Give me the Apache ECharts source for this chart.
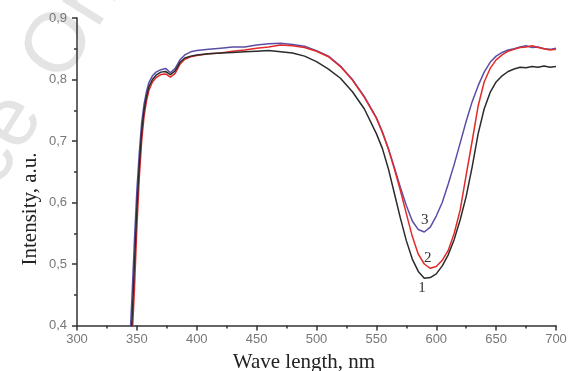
<!DOCTYPE html>
<html>
<head>
<meta charset="utf-8">
<script src="https://cdn.jsdelivr.net/npm/echarts@6/dist/echarts.min.js"></script>
<style>
  html, body { margin: 0; padding: 0; background: #fff; }
  #chart { width: 571px; height: 371px; }
</style>
</head>
<body>
<div id="chart"></div>
<script>
// Transmission spectra, three samples.
const wavelength = [
  344, 346, 348, 350, 352, 354, 356, 358, 360, 363, 366, 370, 374, 378, 382, 386,
  390, 395, 400, 410, 420, 430, 440, 450, 460, 470, 480, 490, 500, 510, 520, 530,
  540, 550, 555, 560, 565, 570, 575, 580, 585, 590, 595, 600, 605, 610, 615, 620,
  625, 630, 635, 640, 645, 650, 655, 660, 665, 670, 675, 680, 685, 690, 695, 700
];
const curve1 = [
  0.35, 0.41, 0.50, 0.59, 0.66, 0.715, 0.75, 0.772, 0.788, 0.800, 0.807, 0.812, 0.813, 0.808, 0.814, 0.828,
  0.835, 0.838, 0.840, 0.842, 0.843, 0.844, 0.845, 0.846, 0.847, 0.845, 0.843, 0.838, 0.829, 0.817, 0.802, 0.780,
  0.752, 0.712, 0.688, 0.655, 0.615, 0.575, 0.538, 0.508, 0.488, 0.477, 0.478, 0.484, 0.497, 0.515, 0.540, 0.572,
  0.610, 0.658, 0.712, 0.752, 0.779, 0.796, 0.806, 0.813, 0.817, 0.820, 0.819, 0.821, 0.820, 0.822, 0.820, 0.821
];
const curve2 = [
  0.34, 0.38, 0.46, 0.56, 0.64, 0.70, 0.74, 0.765, 0.782, 0.796, 0.803, 0.808, 0.809, 0.804, 0.810, 0.825,
  0.833, 0.837, 0.839, 0.842, 0.843, 0.846, 0.848, 0.851, 0.853, 0.856, 0.855, 0.852, 0.846, 0.837, 0.821, 0.799,
  0.771, 0.737, 0.714, 0.687, 0.655, 0.620, 0.582, 0.545, 0.516, 0.500, 0.493, 0.496, 0.506, 0.522, 0.550, 0.588,
  0.645, 0.700, 0.757, 0.796, 0.818, 0.832, 0.840, 0.846, 0.849, 0.852, 0.853, 0.855, 0.852, 0.850, 0.848, 0.849
];
const curve3 = [
  0.37, 0.45, 0.54, 0.62, 0.68, 0.73, 0.76, 0.78, 0.795, 0.806, 0.812, 0.816, 0.818, 0.811, 0.818, 0.832,
  0.840, 0.845, 0.847, 0.849, 0.851, 0.853, 0.853, 0.856, 0.858, 0.859, 0.857, 0.854, 0.847, 0.838, 0.822, 0.800,
  0.772, 0.738, 0.715, 0.688, 0.657, 0.625, 0.595, 0.570, 0.556, 0.552, 0.560, 0.578, 0.600, 0.630, 0.662, 0.697,
  0.732, 0.764, 0.790, 0.812, 0.828, 0.838, 0.844, 0.848, 0.850, 0.853, 0.855, 0.852, 0.853, 0.850, 0.849, 0.851
];
const curveNames = ['1', '2', '3'];
const curveColors = ['#2b2b2b', '#e22a2a', '#5a4fa6'];
// where the curve numbers sit, in data units
const labelAt = [[588, 0.461], [593, 0.510], [590.5, 0.571]];

const SERIF = '"Liberation Serif", "DejaVu Serif", serif';
const SANS = '"Liberation Sans", Arial, sans-serif';
const pair = (ys) => wavelength.map((x, i) => [x, ys[i]]);
const comma = (v) => v.toFixed(1).replace('.', ',');
const TILT = 58 * Math.PI / 180;

const chart = echarts.init(document.getElementById('chart'));
chart.setOption({
  animation: false,
  backgroundColor: '#fff',
  grid: { left: 77, right: 15, top: 18, bottom: 45.5 },
  xAxis: {
    type: 'value',
    min: 300,
    max: 700,
    interval: 50,
    axisLine: { show: true, onZero: false, lineStyle: { color: '#333', width: 1.5 } },
    axisTick: { show: true, length: 5, lineStyle: { color: '#333', width: 1.5 } },
    minorTick: { show: true, splitNumber: 2, length: 3, lineStyle: { color: '#333', width: 1.5 } },
    axisLabel: { color: '#777', fontSize: 13, fontFamily: SANS, margin: 7 },
    splitLine: { show: false },
  },
  yAxis: {
    type: 'value',
    min: 0.4,
    max: 0.9,
    interval: 0.1,
    axisLine: { show: true, lineStyle: { color: '#333', width: 1.5 } },
    axisTick: { show: true, length: 5, lineStyle: { color: '#333', width: 1.5 } },
    minorTick: { show: true, splitNumber: 2, length: 3, lineStyle: { color: '#333', width: 1.5 } },
    axisLabel: { color: '#777', fontSize: 13, fontFamily: SANS, margin: 10, formatter: comma },
    splitLine: { show: false },
  },
  graphic: [
    // faint watermark in the top-left corner
    {
      type: 'text', x: 24.5, y: 102, rotation: TILT, z: -10, silent: true,
      style: { text: 'Advance', fontSize: 84, fontFamily: SANS, fill: '#e4e4e4',
               textAlign: 'right', textVerticalAlign: 'middle' },
    },
    {
      type: 'text', x: 42.6, y: 72.8, rotation: TILT, z: -10, silent: true,
      style: { text: 'Online', fontSize: 84, fontFamily: SANS, fill: '#e4e4e4',
               textAlign: 'left', textVerticalAlign: 'middle' },
    },
    {
      type: 'text', x: 30, y: 209, rotation: Math.PI / 2,
      style: { text: 'Intensity, a.u.', fontSize: 21, fontFamily: SERIF, fill: '#222',
               textAlign: 'center', textVerticalAlign: 'middle' },
    },
    {
      type: 'text', x: 304, y: 362,
      style: { text: 'Wave length, nm', fontSize: 21, fontFamily: SERIF, fill: '#222',
               textAlign: 'center', textVerticalAlign: 'middle' },
    },
  ],
  series: [curve1, curve2, curve3].map((ys, i) => ({
    name: curveNames[i],
    type: 'line',
    data: pair(ys),
    showSymbol: false,
    smooth: false,
    clip: true,
    lineStyle: { color: curveColors[i], width: 1.5 },
    z: 3 - i,
    markPoint: {
      symbol: 'circle',
      symbolSize: 0,
      label: { show: true, formatter: curveNames[i], color: '#333', fontSize: 15,
               fontFamily: SERIF, offset: [0, 0] },
      data: [{ coord: labelAt[i] }],
    },
  })),
});
</script>
</body>
</html>
